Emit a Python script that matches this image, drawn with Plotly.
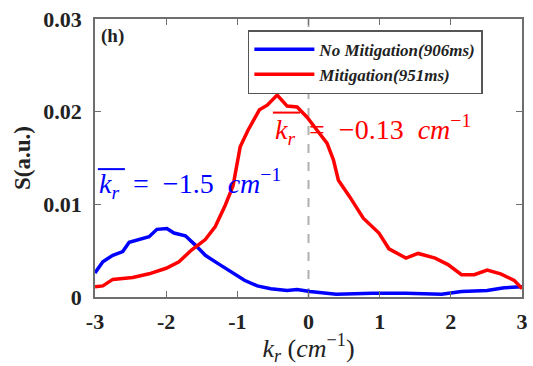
import plotly.graph_objects as go

# Blue: No Mitigation (906ms)
k_blue = [-3.0, -2.89, -2.75, -2.61, -2.52, -2.33, -2.24, -2.13, -1.99, -1.89, -1.73, -1.59,
          -1.45, -1.27, -1.09, -0.9, -0.72, -0.53, -0.3, -0.16, 0.02, 0.39, 0.9, 1.37,
          1.87, 2.15, 2.51, 2.75, 3.0]
s_blue = [0.0026, 0.0038, 0.0045, 0.0049, 0.0059, 0.0063, 0.0065, 0.0073, 0.0074, 0.0069,
          0.0066, 0.0056, 0.0045, 0.0036, 0.0027, 0.0018, 0.0012, 0.0009, 0.0007, 0.0008,
          0.0006, 0.0003, 0.0004, 0.0004, 0.0003, 0.0006, 0.0007, 0.0010, 0.0011]

# Red: Mitigation (951ms)
k_red = [-3.0, -2.89, -2.75, -2.47, -2.24, -2.0, -1.82, -1.64, -1.45, -1.31, -1.17, -1.06,
         -0.96, -0.85, -0.69, -0.58, -0.44, -0.3, -0.16, -0.02, 0.12, 0.26, 0.35, 0.42,
         0.58, 0.77, 0.99, 1.13, 1.37, 1.54, 1.78, 1.96, 2.15, 2.33, 2.51, 2.7, 2.89, 3.0]
s_red = [0.0011, 0.0012, 0.0019, 0.0021, 0.0025, 0.0031, 0.0038, 0.0051, 0.0062, 0.0076,
         0.0099, 0.0120, 0.0162, 0.0180, 0.0202, 0.0207, 0.0218, 0.0206, 0.0205, 0.0194,
         0.0180, 0.0166, 0.0148, 0.0126, 0.0108, 0.0085, 0.0069, 0.0052, 0.0042, 0.0047,
         0.0042, 0.0035, 0.0024, 0.0024, 0.0029, 0.0025, 0.0018, 0.0009]

x_ticks = [-3, -2, -1, 0, 1, 2, 3]
y_ticks = [0, 0.01, 0.02, 0.03]
y_tick_labels = ["0", "0.01", "0.02", "0.03"]

serif = "Times New Roman, Liberation Serif, DejaVu Serif, serif"
sp = "&nbsp;"

fig = go.Figure()
fig.add_trace(go.Scatter(x=k_blue, y=s_blue, mode="lines", name="No Mitigation(906ms)",
                         line=dict(color="#0000ff", width=3.5)))
fig.add_trace(go.Scatter(x=k_red, y=s_red, mode="lines", name="Mitigation(951ms)",
                         line=dict(color="#ff0000", width=3.5)))

# dashed vertical line at k=0
fig.add_shape(type="line", x0=0, x1=0, y0=0, y1=0.03, xref="x", yref="y",
              line=dict(color="#b0b0b0", width=2, dash="dash"), layer="below")

# overlines for mean k_r annotations
fig.add_shape(type="line", x0=-0.5, x1=-0.12, y0=0.0199, y1=0.0199, xref="x", yref="y",
              line=dict(color="#ff0000", width=2))
fig.add_shape(type="line", x0=-2.96, x1=-2.58, y0=0.0138, y1=0.0138, xref="x", yref="y",
              line=dict(color="#0000ff", width=2))

fig.add_annotation(x=-0.5, y=0.0181, xref="x", yref="y", xanchor="left", yanchor="middle",
                   showarrow=False,
                   text="<i>k<sub>r</sub></i>" + sp * 2 + "=" + sp * 2 + "−0.13" + sp * 2
                        + "<i>cm</i><sup>−1</sup>",
                   font=dict(family=serif, size=28, color="#ff0000"))
fig.add_annotation(x=-2.97, y=0.0122, xref="x", yref="y", xanchor="left", yanchor="middle",
                   showarrow=False,
                   text="<i>k<sub>r</sub></i>" + sp * 2 + "=" + sp * 2 + "−1.5" + sp * 2
                        + "<i>cm</i><sup>−1</sup>",
                   font=dict(family=serif, size=28, color="#0000ff"))
fig.add_annotation(x=0.01, y=0.985, xref="paper", yref="paper", xanchor="left", yanchor="top",
                   showarrow=False, text="<b>(h)</b>",
                   font=dict(family=serif, size=19, color="#222222"))

axis_common = dict(showline=True, linecolor="#6e6e6e", linewidth=1.5, mirror="ticks",
                   ticks="inside", ticklen=6, tickcolor="#6e6e6e", showgrid=False,
                   zeroline=False)
tick_font = dict(family=serif, size=22, color="#222222", weight="bold")

fig.update_layout(
    width=533, height=366,
    margin=dict(l=95, r=5, t=19, b=69),
    paper_bgcolor="white", plot_bgcolor="white",
    showlegend=True,
    legend=dict(x=0.358, y=0.96, xanchor="left", yanchor="top",
                bgcolor="white", bordercolor="#555555", borderwidth=1.5,
                font=dict(family=serif, size=17, color="#222222", style="italic", weight="bold"),
                tracegroupgap=0, itemwidth=60),
    xaxis=dict(range=[-3, 3], tickvals=x_ticks, ticktext=[str(v) for v in x_ticks],
               title=dict(text="<i>k<sub>r</sub></i>" + sp + "(<i>cm</i><sup>−1</sup>)",
                          font=dict(family=serif, size=26, color="#222222"), standoff=8),
               tickfont=tick_font, ticklabelstandoff=4, **axis_common),
    yaxis=dict(range=[0, 0.03], tickvals=y_ticks, ticktext=y_tick_labels,
               title=dict(text="<b>S(a.u.)</b>",
                          font=dict(family=serif, size=23, color="#222222"), standoff=6),
               tickfont=tick_font, ticklabelstandoff=7, **axis_common),
)

fig.write_html("out.html")
